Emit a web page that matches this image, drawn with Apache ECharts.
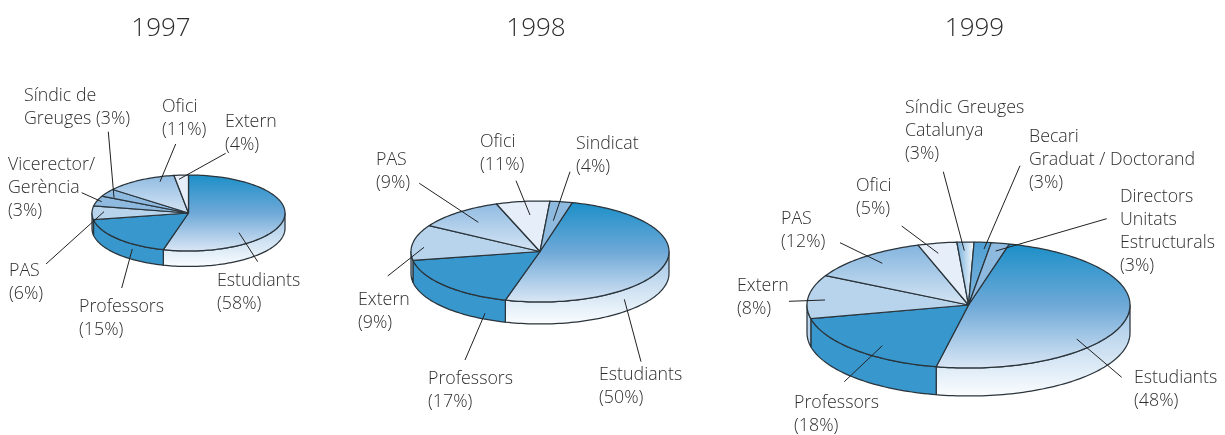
<!DOCTYPE html>
<html><head><meta charset="utf-8">
<style>html,body{margin:0;padding:0;background:#fff}#c{width:1225px;height:435px}</style>
<script src="https://cdn.jsdelivr.net/npm/echarts@6/dist/echarts.min.js"></script>
</head><body><div id="c"></div>
<script>
// Printed percentages (label text) and the share of the circle each slice occupies
// as measured on the picture: the source's slices do not follow its printed figures exactly.
const years = ['1997', '1998', '1999'];

const categories1997 = ['Estudiants', 'Professors', 'PAS', 'Vicerector/\nGerència', 'Síndic de\nGreuges', 'Ofici', 'Extern'];
const printed1997 = [58, 15, 6, 3, 3, 11, 4];
const drawn1997 = [54.2, 18, 5.8, 4.3, 3.3, 12, 2.4];

const categories1998 = ['Estudiants', 'Professors', 'Extern', 'PAS', 'Ofici', 'Sindicat'];
const printed1998 = [50, 17, 9, 9, 11, 4];
const drawn1998 = [50.3, 17.9, 11.3, 11, 6.7, 2.8];

const categories1999 = ['Estudiants', 'Professors', 'Extern', 'PAS', 'Ofici', 'Síndic Greuges\nCatalunya', 'Becari\nGraduat / Doctorand', 'Directors\nUnitats\nEstructurals'];
const printed1999 = [48, 18, 8, 12, 5, 3, 3, 3];
const drawn1999 = [49.1, 18.3, 11.2, 12.2, 3.9, 1.7, 1.7, 1.8];

// ---- styles and layout ----
const LINE = '#2a343b', TEXT = '#2e2e2e', FONT = '"Open Sans"';
const BLUE = '#3897cd', PALE = '#b8d3ec', ICE = '#e6eff9', MID = '#8fbae0';
const EST = { top: ['#1b8fc8', '#6fa9d8', '#dbe7f5'], wall: ['#9ec3e4', '#fbfdff'] };
const LIGHTG = { top: ['#90bbe2', '#d6e5f4'], wall: [PALE, PALE] };
const flat = c => ({ top: [c, c], wall: [c, c] });

const pies = [
  { year: '1997', cats: categories1997, printed: printed1997, drawn: drawn1997, cx: 188.5, cy: 213, rx: 96.5, ry: 38, depth: 15.5, start: 0, titleX: 161,
    styles: [EST, flat(BLUE), flat(PALE), flat(MID), flat(MID), LIGHTG, flat(ICE)],
    labels: [
      { x: 217, y: 270, line: [257.7, 261.7, 239, 232.7] },
      { x: 79, y: 296, line: [121.7, 288, 132.3, 249] },
      { x: 9, y: 260, line: [46, 264, 104, 211.7] },
      { x: 8, y: 154, line: [81.7, 192.7, 101.7, 201.7] },
      { x: 24, y: 85, inline: true, line: [108.3, 131.7, 114, 197.7] },
      { x: 162, y: 96, line: [175.7, 144, 160, 181.7] },
      { x: 225, y: 111, line: [225.7, 153.3, 179, 179.3] }
    ] },
  { year: '1998', cats: categories1998, printed: printed1998, drawn: drawn1998, cx: 540, cy: 251.5, rx: 129, ry: 50.5, depth: 22, start: 14.5, titleX: 536,
    styles: [EST, flat(BLUE), flat(PALE), LIGHTG, flat(ICE), flat(MID)],
    labels: [
      { x: 599, y: 364, line: [641, 361.7, 624.3, 299.3] },
      { x: 428, y: 368, line: [465, 360, 485, 313.3] },
      { x: 358, y: 289, line: [387.7, 276, 424, 247.3] },
      { x: 376, y: 149, line: [419.3, 183.3, 478.3, 222.3] },
      { x: 480, y: 131, line: [516, 180.7, 530, 215] },
      { x: 576, y: 133, line: [570, 171.7, 553.3, 220.7] }
    ] },
  { year: '1999', cats: categories1999, printed: printed1999, drawn: drawn1999, cx: 968.5, cy: 305, rx: 161.5, ry: 63, depth: 28, start: 14.6, titleX: 974.5,
    styles: [EST, flat(BLUE), flat(PALE), { top: ['#83b4de', '#d6e5f4'], wall: [PALE, PALE] }, flat(ICE),
      { top: ['#6fabda', '#ffffff'], wall: [PALE, PALE], horizontal: true }, { top: ['#4f9fd3', '#7fb3de'], wall: [MID, MID] }, flat(MID)],
    labels: [
      { x: 1134, y: 367, line: [1121.7, 377.3, 1076.7, 339] },
      { x: 794, y: 392, line: [844.3, 381.7, 882.3, 345.7] },
      { x: 737, y: 275, line: [789, 301.3, 825, 300] },
      { x: 781, y: 208, line: [840, 242.7, 882.3, 263.3] },
      { x: 856, y: 175, line: [901.7, 226, 938.3, 253.3] },
      { x: 905, y: 97, line: [943.3, 171.7, 964.3, 250.7] },
      { x: 1029, y: 126, line: [1020, 165.7, 984, 249] },
      { x: 1120, y: 186, line: [1106.7, 218.7, 995.7, 251] }
    ] }
];

const chart = echarts.init(document.getElementById('c'), null, { renderer: 'canvas' });

function point(p, deg, dy) {
  const a = deg * Math.PI / 180;
  return [p.cx + p.rx * Math.sin(a), p.cy + (dy || 0) - p.ry * Math.cos(a)];
}
function arc(p, a0, a1, dy) {
  const n = Math.max(2, Math.ceil(Math.abs(a1 - a0) / 1.5)), pts = [];
  for (let i = 0; i <= n; i++) pts.push(point(p, a0 + (a1 - a0) * i / n, dy));
  return pts;
}
function fill(colors, horizontal) {
  if (colors[0] === colors[colors.length - 1]) return colors[0];
  return new echarts.graphic.LinearGradient(0, 0, horizontal ? 1 : 0, horizontal ? 0 : 1,
    colors.map((color, i) => ({ offset: i / (colors.length - 1), color })));
}
function sliceSeries(p) {
  const total = p.drawn.reduce((s, v) => s + v, 0);
  return {
    type: 'custom', coordinateSystem: 'none', silent: true, animation: false, z: 2,
    data: p.drawn.map((v, i) => ({ name: p.cats[i], value: [v] })),
    renderItem(params, api) {
      const i = params.dataIndex;
      let before = 0;
      for (let k = 0; k < i; k++) before += p.drawn[k];
      const a0 = p.start + before / total * 360, a1 = a0 + api.value(0) / total * 360;
      const st = p.styles[i], children = [];
      // Front wall: the part of the slice between 90 and 270 degrees (also checked one turn up).
      [0, 360].forEach(turn => {
        const w0 = Math.max(a0, 90 + turn), w1 = Math.min(a1, 270 + turn);
        if (w1 > w0) {
          children.push({ type: 'polygon', z2: 1,
            shape: { points: arc(p, w0, w1, 0).concat(arc(p, w1, w0, p.depth)) },
            style: { fill: fill(st.wall), stroke: LINE, lineWidth: 1.25, lineJoin: 'round' } });
        }
      });
      children.push({ type: 'polygon', z2: 2,
        shape: { points: [[p.cx, p.cy]].concat(arc(p, a0, a1, 0)) },
        style: { fill: fill(st.top, st.horizontal), stroke: LINE, lineWidth: 1.25, lineJoin: 'round' } });
      return { type: 'group', children };
    }
  };
}
function labelSeries(p) {
  return {
    type: 'custom', coordinateSystem: 'none', silent: true, animation: false, z: 5,
    data: p.printed.map((v, i) => ({ name: p.cats[i], value: [v] })),
    renderItem(params, api) {
      const i = params.dataIndex, l = p.labels[i];
      const text = p.cats[i] + (l.inline ? ' ' : '\n') + '(' + api.value(0) + '%)';
      return { type: 'group', children: [
        { type: 'line', shape: { x1: l.line[0], y1: l.line[1], x2: l.line[2], y2: l.line[3] },
          style: { stroke: '#222', lineWidth: 1 } },
        { type: 'text', x: l.x, y: l.y,
          style: { text, fill: TEXT, font: '300 17.8px ' + FONT, lineHeight: 22.7, align: 'left', verticalAlign: 'top' } }
      ] };
    }
  };
}

chart.setOption({
  backgroundColor: '#fff',
  animation: false,
  title: pies.map((p, i) => ({ text: years[i], left: p.titleX - 5, top: 11, textAlign: 'center',
    textStyle: { color: '#2e2e2e', fontFamily: FONT, fontWeight: 300, fontSize: 26 } })),
  series: pies.map(sliceSeries).concat(pies.map(labelSeries))
});
</script></body></html>
